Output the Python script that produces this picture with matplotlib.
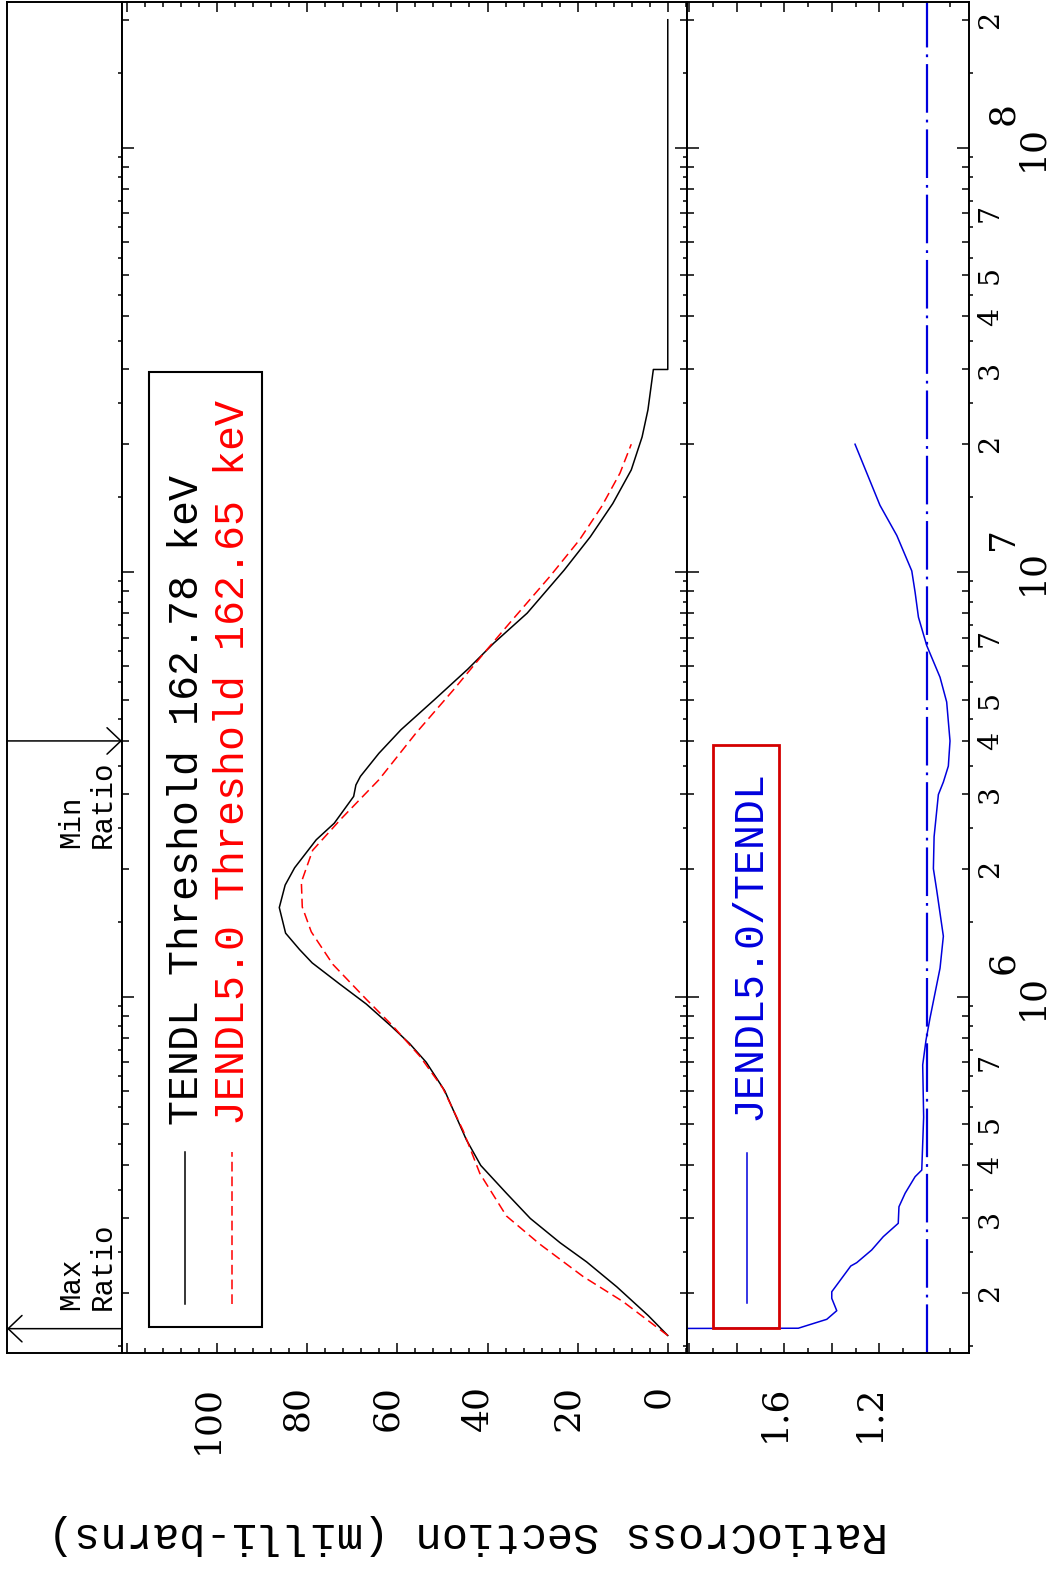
import numpy as np
import matplotlib
matplotlib.use("Agg")
import matplotlib.pyplot as plt
import matplotlib.ticker as mtick
from matplotlib.patches import Rectangle

# ---- values ----
tendl_energy = [1.59e5, 1.77e5, 2.07e5, 2.37e5, 2.63e5, 3.0e5, 3.44e5, 4.0e5, 4.6e5, 6.0e5,
                7.0e5, 7.75e5, 8.5e5, 9.6e5, 1.07e6, 1.2e6, 1.29e6, 1.41e6, 1.62e6, 1.83e6,
                2.01e6, 2.34e6, 2.56e6, 2.96e6, 3.15e6, 3.3e6, 3.74e6, 4.25e6, 5.0e6, 5.9e6,
                6.8e6, 8.0e6, 1.01e7, 1.21e7, 1.45e7, 1.74e7, 2.08e7, 2.41e7, 3.0e7, 3.0e7,
                2.0e8]
tendl_xs = [0.0, 4.3, 11.3, 18.0, 23.9, 30.5, 35.8, 41.5, 44.7, 49.5,
            53.6, 57.3, 61.3, 66.9, 72.8, 78.9, 81.7, 84.8, 86.2, 84.9,
            82.8, 78.0, 74.0, 69.7, 69.2, 68.2, 64.1, 59.2, 51.8, 44.4,
            38.6, 31.2, 23.0, 17.2, 12.2, 8.1, 5.7, 4.4, 3.2, 0.0,
            0.0]

jendl_energy = [1.59e5, 1.91e5, 2.19e5, 2.61e5, 3.04e5, 3.83e5, 4.83e5, 6.08e5, 7.23e5, 8.52e5,
                9.85e5, 1.19e6, 1.42e6, 1.625e6, 1.86e6, 2.21e6, 2.62e6, 3.24e6, 4.17e6, 5.27e6,
                6.55e6, 7.71e6, 9.75e6, 1.19e7, 1.425e7, 1.71e7, 2.0e7]
jendl_xs = [0.0, 9.9, 18.8, 28.4, 35.8, 41.7, 45.4, 49.9, 55.0, 61.0,
            66.9, 74.3, 79.1, 81.1, 81.3, 78.8, 72.5, 64.1, 55.9, 47.6,
            40.2, 34.5, 26.2, 19.6, 14.7, 10.6, 8.1]

ratio_energy = [1.650e5, 1.654e5, 1.736e5, 1.819e5, 1.945e5, 2.016e5, 2.091e5, 2.318e5, 2.36e5, 2.528e5,
                2.718e5, 2.922e5, 3.197e5, 3.44e5, 3.763e5, 3.90e5, 5.2e5, 6.9e5, 7.9e5, 8.91e5,
                1.166e6, 1.387e6, 1.78e6, 2.0e6, 2.38e6, 2.99e6, 3.2e6, 3.49e6, 4.0e6, 4.94e6,
                5.65e6, 6.71e6, 7.83e6, 8.96e6, 1.006e7, 1.219e7, 1.436e7, 2.0e7]
ratio_vals = [2.5, 1.541, 1.421, 1.379, 1.400, 1.400, 1.379, 1.320, 1.295, 1.232,
              1.183, 1.120, 1.117, 1.091, 1.049, 1.021, 1.013, 1.017, 1.003, 0.986,
              0.944, 0.930, 0.958, 0.972, 0.969, 0.951, 0.930, 0.909, 0.902, 0.916,
              0.944, 1.000, 1.035, 1.049, 1.063, 1.126, 1.197, 1.302]

energy_lim = (1.446e5, 2.202e8)
xs_lim = (121.1, -4.2)
ratio_lim = (2.011, 0.822)
ratio_ref = 1.0
xs_ticklabels = [0, 20, 40, 60, 80, 100]
ratio_ticklabels = [1.2, 1.6]
energy_mantissas = [2, 3, 4, 5, 7]

label_tendl = "TENDL Threshold 162.78 keV"
label_jendl = "JENDL5.0 Threshold 162.65 keV"
label_ratio = "JENDL5.0/TENDL"
ylabel = "RatioCross Section (milli-barns)"

plt.rcParams['lines.scale_dashes'] = False
MONO = 'Liberation Mono'
SERIF = 'DejaVu Serif'
BLUE = '#0000dd'

W, H = 1056, 1573
fig = plt.figure(figsize=(W / 100, H / 100), dpi=100, facecolor='white')


def box(x0, x1, y0=2, y1=1353):
    # pixel box -> figure fraction
    return [x0 / W, 1 - y1 / H, (x1 - x0) / W, (y1 - y0) / H]


ax_s = fig.add_axes(box(7, 122))
ax = fig.add_axes(box(122, 686.7), sharey=ax_s)
ax_r = fig.add_axes(box(686.7, 969), sharey=ax_s)

for a in (ax_s, ax, ax_r):
    for sp in a.spines.values():
        sp.set_linewidth(1.4)

# curves
ax.plot(tendl_xs, tendl_energy, color='black', lw=1.1)
ax.plot(jendl_xs, jendl_energy, color='red', lw=1.1, dashes=(7, 3.6))
ax_r.plot(ratio_vals, ratio_energy, color=BLUE, lw=1.1)
ax_r.axvline(ratio_ref, color=BLUE, lw=1.6, dashes=(35, 5, 2, 5))

# energy axis (shared)
ax_s.set_yscale('log')
ax_s.set_ylim(*energy_lim)
ax_s.yaxis.set_major_locator(mtick.LogLocator(base=10, numticks=30))
ax_s.yaxis.set_minor_locator(mtick.LogLocator(base=10, subs=np.arange(2, 10), numticks=30))
ax_s.yaxis.set_major_formatter(mtick.FuncFormatter(lambda v, p: '10'))


def mantissa_fmt(v, p):
    m = int(round(v / 10 ** np.floor(np.log10(v) + 1e-9)))
    return str(m) if m in energy_mantissas else ''


ax_s.yaxis.set_minor_formatter(mtick.FuncFormatter(mantissa_fmt))

ax_s.set_xlim(0, 1)
ax_s.set_xticks([])
ax_s.tick_params(axis='y', which='both', left=False, right=False,
                 labelleft=False, labelright=False)

ax.set_xlim(*xs_lim)
ax.xaxis.set_major_locator(mtick.MultipleLocator(20))
ax.xaxis.set_minor_locator(mtick.MultipleLocator(4))
ax.xaxis.set_major_formatter(mtick.FuncFormatter(
    lambda v, p: f"{v:.0f}" if round(v) in xs_ticklabels else ''))

ax_r.set_xlim(*ratio_lim)
ax_r.xaxis.set_major_locator(mtick.MultipleLocator(0.2))
ax_r.xaxis.set_minor_locator(mtick.MultipleLocator(0.1))
ax_r.xaxis.set_major_formatter(mtick.FuncFormatter(
    lambda v, p: f"{v:.1f}" if any(abs(v - t) < 1e-6 for t in ratio_ticklabels) else ''))

for a in (ax, ax_r):
    a.tick_params(which='both', direction='in', top=True, bottom=True, left=True, right=True,
                  width=1.1, color='black')
    a.tick_params(axis='x', which='major', length=7.2, pad=23, labelsize=26)
    a.tick_params(axis='x', which='minor', length=3.6)
    a.tick_params(axis='y', which='major', length=8.6)
    a.tick_params(axis='y', which='minor', length=5)
    a.tick_params(axis='y', which='both', labelleft=False, labelright=False)

ax_r.tick_params(axis='y', which='both', labelright=True)
ax_r.tick_params(axis='y', which='major', pad=33.5, labelsize=26)
ax_r.tick_params(axis='y', which='minor', pad=5.5, labelsize=20.5)

# half-step ticks on the energy axis
lo, hi = energy_lim
half_steps = [m * 10.0 ** d
              for d in range(int(np.floor(np.log10(lo))), int(np.ceil(np.log10(hi))))
              for m in np.arange(1.5, 10, 1.0)]
half_steps = [v for v in half_steps if lo <= v <= hi]
for a in (ax, ax_r):
    tr = a.get_yaxis_transform()
    a.plot(np.zeros(len(half_steps)), half_steps, ls='none', marker=0, ms=2.9, mew=1.1,
           color='black', transform=tr, clip_on=False)
    a.plot(np.ones(len(half_steps)), half_steps, ls='none', marker=1, ms=2.9, mew=1.1,
           color='black', transform=tr, clip_on=False)
ax_s.set_ylim(*energy_lim)

# decade exponents
for d in range(int(np.ceil(np.log10(lo))), int(np.floor(np.log10(hi))) + 1):
    ax_r.annotate(str(d), xy=(1, 10.0 ** d), xycoords=('axes fraction', 'data'),
                  xytext=(12.5, 16), textcoords='offset points', rotation=90,
                  rotation_mode='anchor', ha='left', va='top', fontsize=26,
                  family=SERIF, annotation_clip=False)

# legend of the cross-section panel
ax.add_patch(Rectangle((0.0478, 0.0192), 0.2001, 0.7069, transform=ax.transAxes,
                       fill=False, ec='black', lw=1.5, zorder=5))
ax.plot([0.1107, 0.1107], [0.0363, 0.1488], transform=ax.transAxes, color='black', lw=1.1)
ax.plot([0.1948, 0.1948], [0.0363, 0.1488], transform=ax.transAxes, color='red', lw=1.1,
        dashes=(7, 3.6))
ax.text(0.1346, 0.1688, label_tendl, transform=ax.transAxes, rotation=90,
        rotation_mode='anchor', ha='left', va='baseline', fontsize=30, family=MONO,
        color='black')
ax.text(0.2160, 0.1688, label_jendl, transform=ax.transAxes, rotation=90,
        rotation_mode='anchor', ha='left', va='baseline', fontsize=30, family=MONO,
        color='red')

# legend of the ratio panel
ax_r.add_patch(Rectangle((0.0921, 0.0185), 0.2359, 0.4315, transform=ax_r.transAxes,
                         fill=False, ec='#d40000', lw=2, zorder=5))
ax_r.plot([0.2125, 0.2125], [0.0368, 0.1483], transform=ax_r.transAxes, color=BLUE, lw=1.1)
ax_r.text(0.2597, 0.1725, label_ratio, transform=ax_r.transAxes, rotation=90,
          rotation_mode='anchor', ha='left', va='baseline', fontsize=30, family=MONO,
          color=BLUE)

# max / min ratio markers in the strip
e_max = ratio_energy[int(np.argmax(ratio_vals))]
e_min = ratio_energy[int(np.argmin(ratio_vals))]
arrow = dict(arrowstyle='->,head_length=1.0,head_width=0.95', mutation_scale=10,
             color='black', lw=1.1, shrinkA=0, shrinkB=0)
ax_s.annotate('', xy=(0, e_max), xytext=(1, e_max), xycoords=('axes fraction', 'data'),
              textcoords=('axes fraction', 'data'), arrowprops=arrow)
ax_s.annotate('', xy=(1, e_min), xytext=(0, e_min), xycoords=('axes fraction', 'data'),
              textcoords=('axes fraction', 'data'), arrowprops=arrow)
for e, dy, word in ((e_max, 13.7, 'Max'), (e_min, -77, 'Min')):
    for xf, txt in ((0.625, word), (0.905, 'Ratio')):
        ax_s.annotate(txt, xy=(xf, e), xycoords=('axes fraction', 'data'),
                      xytext=(0, dy), textcoords='offset points', rotation=90,
                      rotation_mode='anchor', ha='left', va='baseline', fontsize=21,
                      family=MONO)

fig.text(468 / W, 1 - 1523 / H, ylabel, rotation=180, rotation_mode='anchor',
         ha='center', va='baseline', fontsize=31.5, family=MONO)

# tick label orientation
fig.canvas.draw()
for a in (ax, ax_r):
    for lbl in a.xaxis.get_ticklabels():
        lbl.set(rotation=90, rotation_mode='anchor', ha='right', va='baseline', family=SERIF)
for lbl in ax_r.yaxis.get_ticklabels(which='both'):
    lbl.set(rotation=90, rotation_mode='anchor', ha='center', va='top', family=SERIF)

fig.savefig('out.png', dpi=100, facecolor='white')
plt.close(fig)
